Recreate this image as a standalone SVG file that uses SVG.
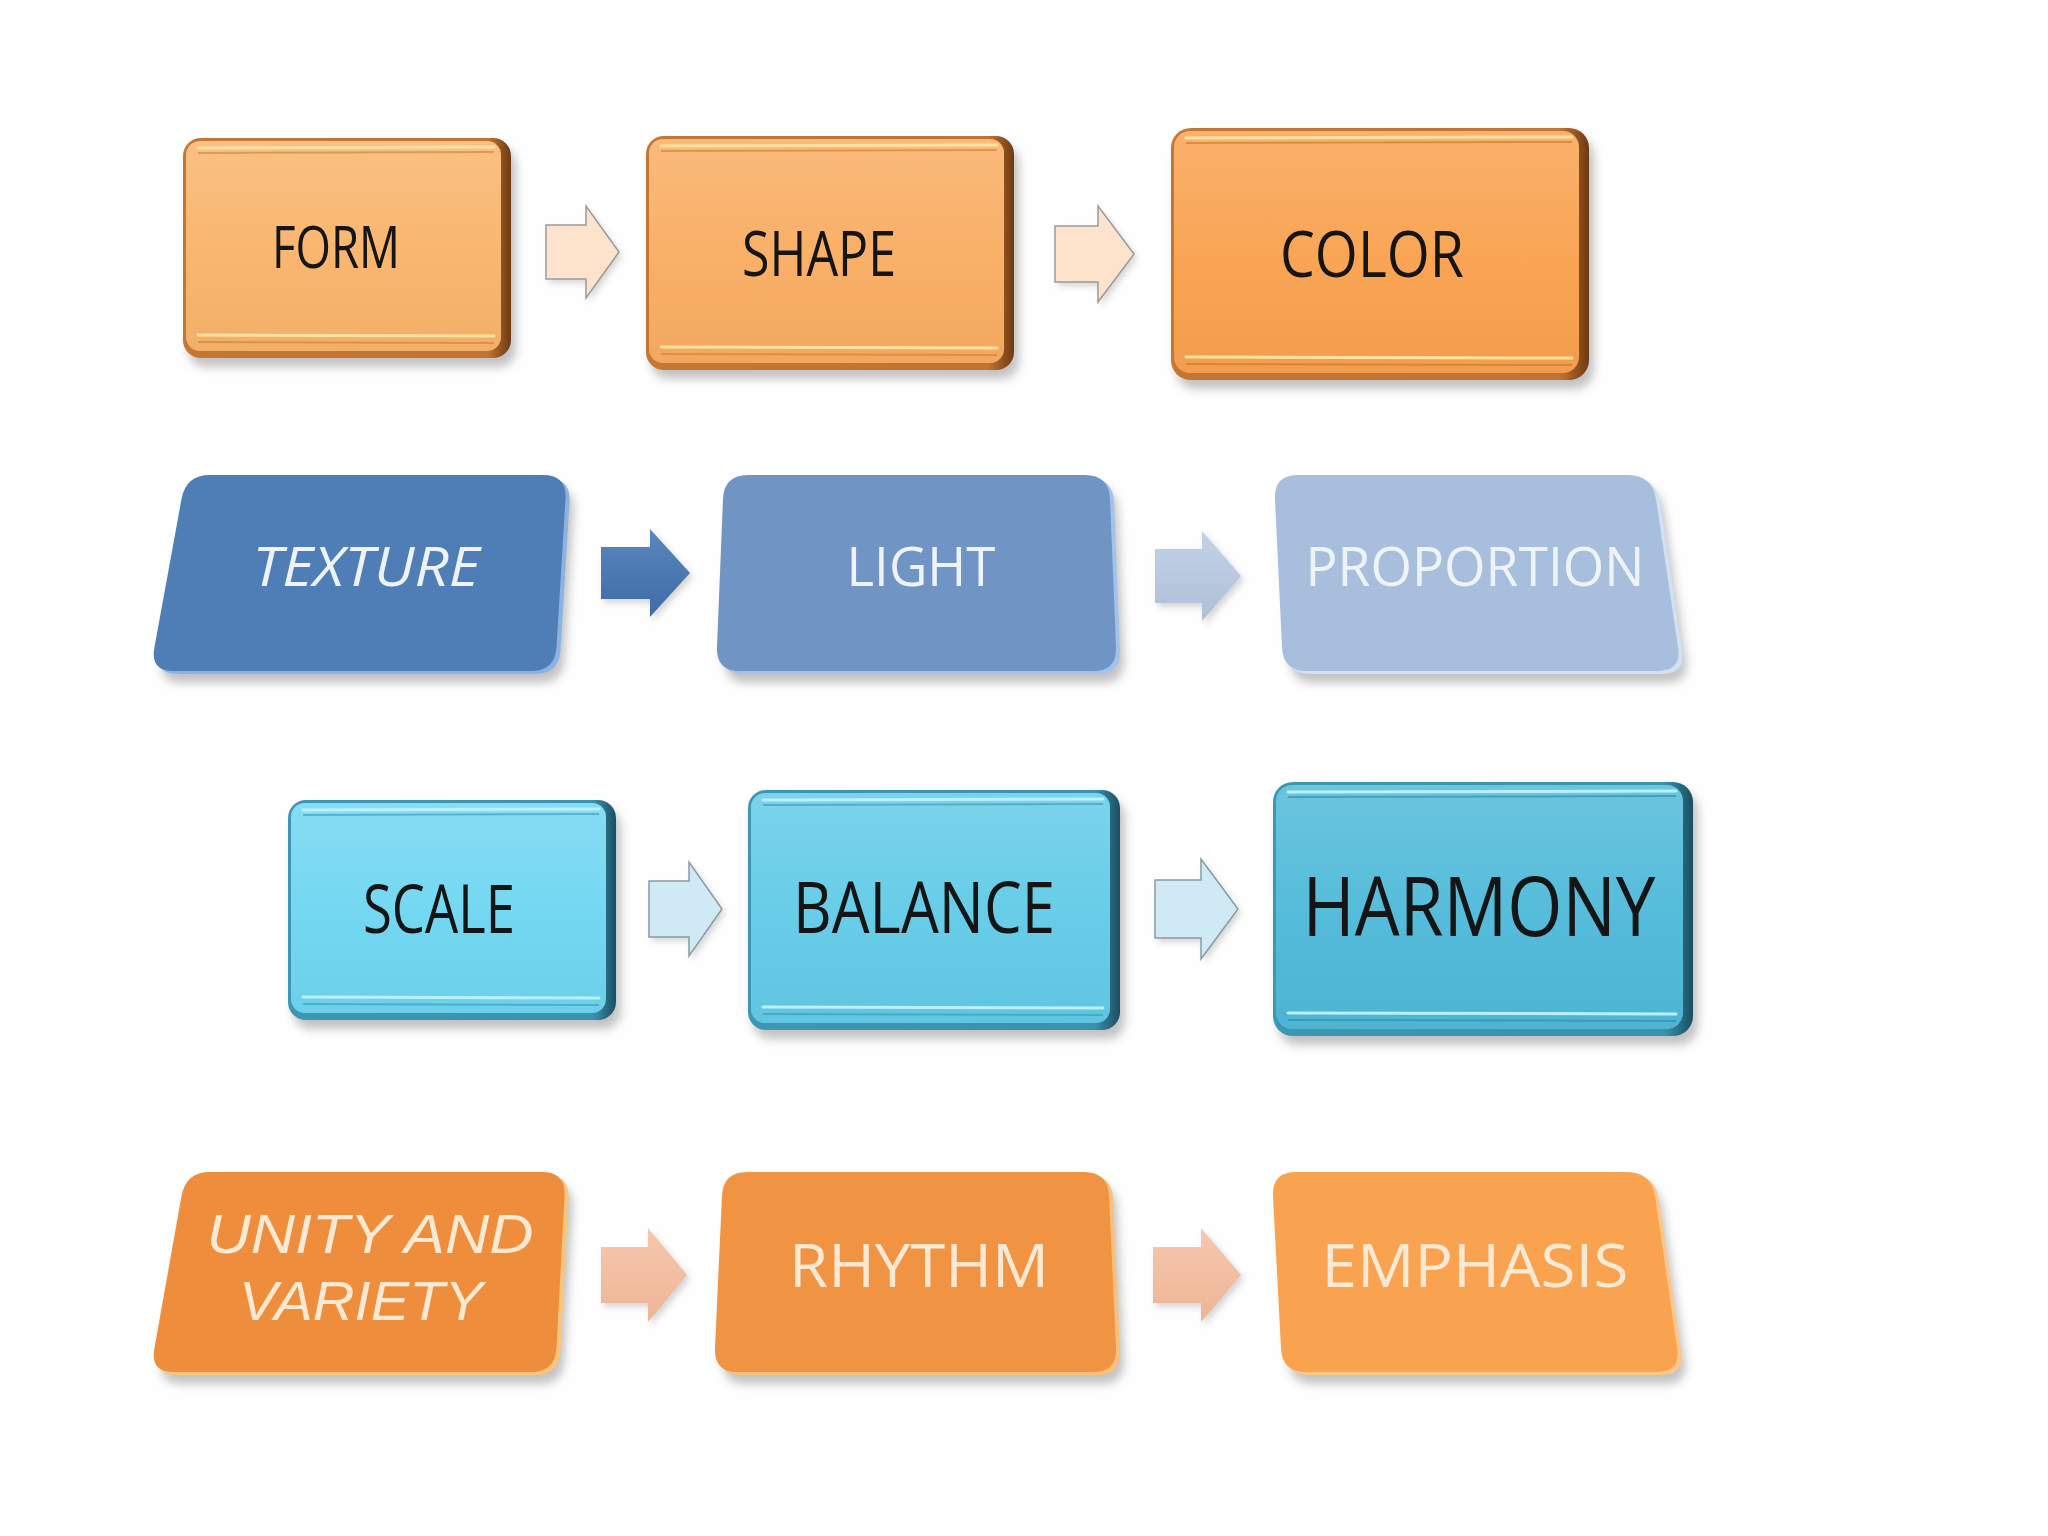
<svg xmlns="http://www.w3.org/2000/svg" width="2048" height="1536" viewBox="0 0 2048 1536">
<style>
  .bg { fill: #fefefe; }
  .shadow { fill: #7a7a7a; opacity: 0.45; filter: url(#blur); }
  .ashadow { fill: #8a8a8a; opacity: 0.35; filter: url(#blurS); }
  .lbl { font-family: "Open Sans", "Liberation Sans", sans-serif; text-anchor: middle; }
  .lbl2 { font-family: "Liberation Sans", "Open Sans", sans-serif; text-anchor: middle; }
  .dark { fill: #151515; }
  .wblue { fill: #eef3fa; font-style: italic; }
  .wblue2 { fill: #eef3fa; }
  .wor { fill: #fde8d2; font-style: italic; }
  .wor2 { fill: #fde8d2; }
  .hiO { stroke: #ffe2a0; stroke-width: 3; fill: none; stroke-linecap: round; }
  .hiT { stroke: #b9f0fb; stroke-width: 3; fill: none; stroke-linecap: round; }
  .arrO { fill: #fde3cc; stroke: #9a9a9a; stroke-width: 1.5; }
  .arrT { fill: #cfeaf4; stroke: #8a9aa2; stroke-width: 1.5; }
</style>
<defs>
  <filter id="blur" x="-10%" y="-10%" width="120%" height="130%"><feGaussianBlur stdDeviation="5"/></filter>
  <filter id="blurS" x="-20%" y="-20%" width="140%" height="140%"><feGaussianBlur stdDeviation="3"/></filter>
  <linearGradient id="gloss" x1="0" y1="0" x2="0" y2="1">
    <stop offset="0" stop-color="#ffffff" stop-opacity="0.16"/>
    <stop offset="0.55" stop-color="#ffffff" stop-opacity="0.03"/>
    <stop offset="1" stop-color="#000000" stop-opacity="0.03"/>
  </linearGradient>
  <linearGradient id="edgeO" x1="0" y1="0" x2="1" y2="0">
    <stop offset="0" stop-color="#c47633"/>
    <stop offset="0.93" stop-color="#c27333"/>
    <stop offset="1" stop-color="#6e3a12"/>
  </linearGradient>
  <linearGradient id="edgeT" x1="0" y1="0" x2="1" y2="0">
    <stop offset="0" stop-color="#3b97b3"/>
    <stop offset="0.93" stop-color="#3a93ae"/>
    <stop offset="1" stop-color="#1a4f60"/>
  </linearGradient>
  <linearGradient id="aBlue" x1="0" y1="0" x2="0" y2="1">
    <stop offset="0" stop-color="#5a86bd"/>
    <stop offset="1" stop-color="#3f6ca6"/>
  </linearGradient>
  <linearGradient id="aBlueL" x1="0" y1="0" x2="0" y2="1">
    <stop offset="0" stop-color="#c3d2e6"/>
    <stop offset="1" stop-color="#aebfd8"/>
  </linearGradient>
  <linearGradient id="aPeach" x1="0" y1="0" x2="0" y2="1">
    <stop offset="0" stop-color="#f6c8ad"/>
    <stop offset="1" stop-color="#eeb495"/>
  </linearGradient>
</defs>

<rect class="bg" x="0" y="0" width="2048" height="1536"/>

<!-- Row 1 -->
<g id="form">
  <rect class="shadow" x="188" y="147" width="328" height="220" rx="18"/>
  <rect x="183" y="138" width="328" height="220" rx="18" fill="url(#edgeO)"/>
  <rect x="186" y="141" width="315" height="210" rx="14" fill="#f9b46b"/>
  <rect x="186" y="141" width="315" height="210" rx="14" fill="url(#gloss)"/>
  <line class="hiO" x1="198" y1="148" x2="494" y2="147"/>
  <line x1="198" y1="153" x2="494" y2="152" stroke="#c98037" stroke-width="2" opacity="0.6"/>
  <line class="hiO" x1="198" y1="335" x2="494" y2="336"/>
  <line x1="198" y1="342" x2="494" y2="343" stroke="#c98037" stroke-width="2" opacity="0.6"/>
  <text class="lbl dark" x="336" y="268" font-size="58" textLength="128" lengthAdjust="spacingAndGlyphs">FORM</text>
</g>
<g id="shape">
  <rect class="shadow" x="651" y="145" width="368" height="234" rx="18"/>
  <rect x="646" y="136" width="368" height="234" rx="18" fill="url(#edgeO)"/>
  <rect x="649" y="139" width="355" height="224" rx="14" fill="#f9ad62"/>
  <rect x="649" y="139" width="355" height="224" rx="14" fill="url(#gloss)"/>
  <line class="hiO" x1="661" y1="146" x2="997" y2="145"/>
  <line x1="661" y1="151" x2="997" y2="150" stroke="#c98037" stroke-width="2" opacity="0.6"/>
  <line class="hiO" x1="661" y1="347" x2="997" y2="348"/>
  <line x1="661" y1="354" x2="997" y2="355" stroke="#c98037" stroke-width="2" opacity="0.6"/>
  <text class="lbl dark" x="819" y="276" font-size="62" textLength="154" lengthAdjust="spacingAndGlyphs">SHAPE</text>
</g>
<g id="color">
  <rect class="shadow" x="1176" y="137" width="418" height="252" rx="20"/>
  <rect x="1171" y="128" width="418" height="252" rx="20" fill="url(#edgeO)"/>
  <rect x="1174" y="131" width="405" height="242" rx="16" fill="#f9a24f"/>
  <rect x="1174" y="131" width="405" height="242" rx="16" fill="url(#gloss)"/>
  <line class="hiO" x1="1186" y1="138" x2="1572" y2="137"/>
  <line x1="1186" y1="143" x2="1572" y2="142" stroke="#c47530" stroke-width="2" opacity="0.6"/>
  <line class="hiO" x1="1186" y1="357" x2="1572" y2="358"/>
  <line x1="1186" y1="364" x2="1572" y2="365" stroke="#c47530" stroke-width="2" opacity="0.6"/>
  <text class="lbl dark" x="1372" y="277" font-size="64" textLength="184" lengthAdjust="spacingAndGlyphs">COLOR</text>
</g>

<!-- Row 2 -->
<g id="texture">
  <path class="shadow" transform="translate(4,9)" d="M214,478 L547,478 Q571,478 569.5,502 L560.5,650 Q559,674 535,674 L178,674 Q154,674 158.4,650.4 L185.6,501.6 Q190,478 214,478 Z"/>
  <path fill="#8db2e2" d="M214,478 L547,478 Q571,478 569.5,502 L560.5,650 Q559,674 535,674 L178,674 Q154,674 158.4,650.4 L185.6,501.6 Q190,478 214,478 Z"/>
  <path fill="#4f7db6" transform="translate(-4,-3)" d="M214,478 L547,478 Q571,478 569.5,502 L560.5,650 Q559,674 535,674 L178,674 Q154,674 158.4,650.4 L185.6,501.6 Q190,478 214,478 Z"/>
  <text class="lbl wblue" x="366" y="586" font-size="54" textLength="227" lengthAdjust="spacingAndGlyphs">TEXTURE</text>
</g>
<g id="light">
  <path class="shadow" transform="translate(4,9)" d="M752,478 L1089,478 Q1113,478 1114,502 L1120,650 Q1121,674 1097,674 L744,674 Q720,674 721,650 L727,502 Q728,478 752,478 Z"/>
  <path fill="#a3c2ea" d="M752,478 L1089,478 Q1113,478 1114,502 L1120,650 Q1121,674 1097,674 L744,674 Q720,674 721,650 L727,502 Q728,478 752,478 Z"/>
  <path fill="#7095c5" transform="translate(-4,-3)" d="M752,478 L1089,478 Q1113,478 1114,502 L1120,650 Q1121,674 1097,674 L744,674 Q720,674 721,650 L727,502 Q728,478 752,478 Z"/>
  <text class="lbl wblue2" x="921" y="586" font-size="54" textLength="149" lengthAdjust="spacingAndGlyphs">LIGHT</text>
</g>
<g id="proportion">
  <path class="shadow" transform="translate(4,9)" d="M1302,478 L1632,478 Q1656,478 1660,502 L1682,650 Q1686,674 1662,674 L1311,674 Q1287,674 1286,650 L1279,502 Q1278,478 1302,478 Z"/>
  <path fill="#d2e0f2" d="M1302,478 L1632,478 Q1656,478 1660,502 L1682,650 Q1686,674 1662,674 L1311,674 Q1287,674 1286,650 L1279,502 Q1278,478 1302,478 Z"/>
  <path fill="#a7bedd" transform="translate(-4,-3)" d="M1302,478 L1632,478 Q1656,478 1660,502 L1682,650 Q1686,674 1662,674 L1311,674 Q1287,674 1286,650 L1279,502 Q1278,478 1302,478 Z"/>
  <text class="lbl wblue2" x="1475" y="586" font-size="54" textLength="339" lengthAdjust="spacingAndGlyphs">PROPORTION</text>
</g>

<!-- Row 3 -->
<g id="scale">
  <rect class="shadow" x="293" y="809" width="328" height="220" rx="18"/>
  <rect x="288" y="800" width="328" height="220" rx="18" fill="url(#edgeT)"/>
  <rect x="291" y="803" width="315" height="210" rx="14" fill="#6fd6f1"/>
  <rect x="291" y="803" width="315" height="210" rx="14" fill="url(#gloss)"/>
  <line class="hiT" x1="303" y1="810" x2="599" y2="809"/>
  <line x1="303" y1="815" x2="599" y2="814" stroke="#3a98b4" stroke-width="2" opacity="0.6"/>
  <line class="hiT" x1="303" y1="997" x2="599" y2="998"/>
  <line x1="303" y1="1004" x2="599" y2="1005" stroke="#3a98b4" stroke-width="2" opacity="0.6"/>
  <text class="lbl dark" x="439" y="933" font-size="68" textLength="152" lengthAdjust="spacingAndGlyphs">SCALE</text>
</g>
<g id="balance">
  <rect class="shadow" x="753" y="799" width="372" height="240" rx="18"/>
  <rect x="748" y="790" width="372" height="240" rx="18" fill="url(#edgeT)"/>
  <rect x="751" y="793" width="359" height="230" rx="14" fill="#62cbe7"/>
  <rect x="751" y="793" width="359" height="230" rx="14" fill="url(#gloss)"/>
  <line class="hiT" x1="763" y1="800" x2="1103" y2="799"/>
  <line x1="763" y1="805" x2="1103" y2="804" stroke="#3a98b4" stroke-width="2" opacity="0.6"/>
  <line class="hiT" x1="763" y1="1007" x2="1103" y2="1008"/>
  <line x1="763" y1="1014" x2="1103" y2="1015" stroke="#3a98b4" stroke-width="2" opacity="0.6"/>
  <text class="lbl dark" x="924" y="933" font-size="72" textLength="262" lengthAdjust="spacingAndGlyphs">BALANCE</text>
</g>
<g id="harmony">
  <rect class="shadow" x="1278" y="791" width="420" height="254" rx="20"/>
  <rect x="1273" y="782" width="420" height="254" rx="20" fill="url(#edgeT)"/>
  <rect x="1276" y="785" width="407" height="244" rx="16" fill="#4fbad9"/>
  <rect x="1276" y="785" width="407" height="244" rx="16" fill="url(#gloss)"/>
  <line class="hiT" x1="1288" y1="792" x2="1676" y2="791"/>
  <line x1="1288" y1="797" x2="1676" y2="796" stroke="#2f88a4" stroke-width="2" opacity="0.6"/>
  <line class="hiT" x1="1288" y1="1013" x2="1676" y2="1014"/>
  <line x1="1288" y1="1020" x2="1676" y2="1021" stroke="#2f88a4" stroke-width="2" opacity="0.6"/>
  <text class="lbl dark" x="1479" y="936" font-size="82" textLength="353" lengthAdjust="spacingAndGlyphs">HARMONY</text>
</g>

<!-- Row 4 -->
<g id="unity">
  <path class="shadow" transform="translate(4,9)" d="M214,1175 L546,1175 Q570,1175 568.5,1199 L560.5,1351 Q559,1375 535,1375 L178,1375 Q154,1375 158.4,1351.4 L185.6,1198.6 Q190,1175 214,1175 Z"/>
  <path fill="#f8c57e" d="M214,1175 L546,1175 Q570,1175 568.5,1199 L560.5,1351 Q559,1375 535,1375 L178,1375 Q154,1375 158.4,1351.4 L185.6,1198.6 Q190,1175 214,1175 Z"/>
  <path fill="#ee8e3d" transform="translate(-4,-3)" d="M214,1175 L546,1175 Q570,1175 568.5,1199 L560.5,1351 Q559,1375 535,1375 L178,1375 Q154,1375 158.4,1351.4 L185.6,1198.6 Q190,1175 214,1175 Z"/>
  <text class="lbl2 wor" x="370" y="1253" font-size="56" textLength="327" lengthAdjust="spacingAndGlyphs">UNITY AND</text>
  <text class="lbl2 wor" x="361" y="1320" font-size="56" textLength="244" lengthAdjust="spacingAndGlyphs">VARIETY</text>
</g>
<g id="rhythm">
  <path class="shadow" transform="translate(4,9)" d="M751,1175 L1088,1175 Q1112,1175 1113,1199 L1120,1351 Q1121,1375 1097,1375 L742,1375 Q718,1375 719,1351 L726,1199 Q727,1175 751,1175 Z"/>
  <path fill="#f8c07c" d="M751,1175 L1088,1175 Q1112,1175 1113,1199 L1120,1351 Q1121,1375 1097,1375 L742,1375 Q718,1375 719,1351 L726,1199 Q727,1175 751,1175 Z"/>
  <path fill="#f09342" transform="translate(-4,-3)" d="M751,1175 L1088,1175 Q1112,1175 1113,1199 L1120,1351 Q1121,1375 1097,1375 L742,1375 Q718,1375 719,1351 L726,1199 Q727,1175 751,1175 Z"/>
  <text class="lbl wor2" x="919" y="1287" font-size="60" textLength="260" lengthAdjust="spacingAndGlyphs">RHYTHM</text>
</g>
<g id="emphasis">
  <path class="shadow" transform="translate(4,9)" d="M1300,1175 L1631,1175 Q1655,1175 1659,1199 L1681,1351 Q1685,1375 1661,1375 L1310,1375 Q1286,1375 1285,1351 L1277,1199 Q1276,1175 1300,1175 Z"/>
  <path fill="#fbc88a" d="M1300,1175 L1631,1175 Q1655,1175 1659,1199 L1681,1351 Q1685,1375 1661,1375 L1310,1375 Q1286,1375 1285,1351 L1277,1199 Q1276,1175 1300,1175 Z"/>
  <path fill="#f9a24f" transform="translate(-4,-3)" d="M1300,1175 L1631,1175 Q1655,1175 1659,1199 L1681,1351 Q1685,1375 1661,1375 L1310,1375 Q1286,1375 1285,1351 L1277,1199 Q1276,1175 1300,1175 Z"/>
  <text class="lbl wor2" x="1475" y="1287" font-size="60" textLength="307" lengthAdjust="spacingAndGlyphs">EMPHASIS</text>
</g>

<!-- Connectors -->
<g id="connectors">
  <path class="ashadow" transform="translate(3,4)" d="M546,225 L586,225 L586,206 L619,252 L586,298 L586,279 L546,279 Z"/>
  <path class="arrO" d="M546,225 L586,225 L586,206 L619,252 L586,298 L586,279 L546,279 Z"/>
  <path class="ashadow" transform="translate(3,4)" d="M1055,226 L1098,226 L1098,206 L1134,254 L1098,302 L1098,282 L1055,282 Z"/>
  <path class="arrO" d="M1055,226 L1098,226 L1098,206 L1134,254 L1098,302 L1098,282 L1055,282 Z"/>

  <path class="ashadow" transform="translate(3,4)" d="M601,547 L650,547 L650,529 L690,573 L650,617 L650,599 L601,599 Z"/>
  <path fill="url(#aBlue)" d="M601,547 L650,547 L650,529 L690,573 L650,617 L650,599 L601,599 Z"/>
  <path class="ashadow" transform="translate(3,4)" d="M1155,549 L1202,549 L1202,531 L1241,576 L1202,621 L1202,603 L1155,603 Z"/>
  <path fill="url(#aBlueL)" d="M1155,549 L1202,549 L1202,531 L1241,576 L1202,621 L1202,603 L1155,603 Z"/>

  <path class="ashadow" transform="translate(3,4)" d="M649,881 L689,881 L689,862 L722,909 L689,956 L689,937 L649,937 Z"/>
  <path class="arrT" d="M649,881 L689,881 L689,862 L722,909 L689,956 L689,937 L649,937 Z"/>
  <path class="ashadow" transform="translate(3,4)" d="M1155,880 L1201,880 L1201,859 L1238,909 L1201,959 L1201,938 L1155,938 Z"/>
  <path class="arrT" d="M1155,880 L1201,880 L1201,859 L1238,909 L1201,959 L1201,938 L1155,938 Z"/>

  <path class="ashadow" transform="translate(3,4)" d="M601,1247 L648,1247 L648,1228 L687,1275 L648,1322 L648,1303 L601,1303 Z"/>
  <path fill="url(#aPeach)" d="M601,1247 L648,1247 L648,1228 L687,1275 L648,1322 L648,1303 L601,1303 Z"/>
  <path class="ashadow" transform="translate(3,4)" d="M1153,1247 L1201,1247 L1201,1228 L1241,1275 L1201,1322 L1201,1303 L1153,1303 Z"/>
  <path fill="url(#aPeach)" d="M1153,1247 L1201,1247 L1201,1228 L1241,1275 L1201,1322 L1201,1303 L1153,1303 Z"/>
</g>
</svg>
